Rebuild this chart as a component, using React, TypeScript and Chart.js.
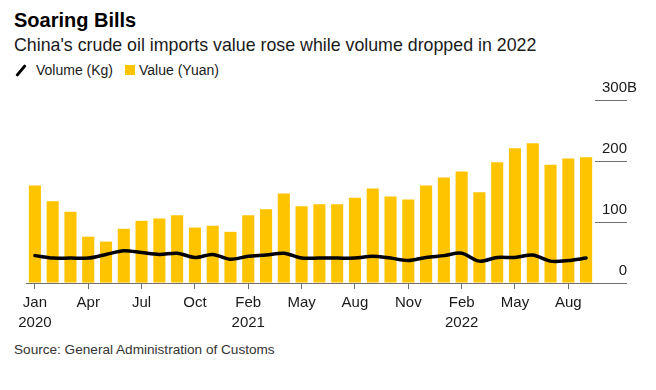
import React, { useEffect, useRef } from "react";
import { Chart, registerables } from "chart.js";

Chart.register(...registerables);

const categories = [
  "Jan 2020", "Feb 2020", "Mar 2020", "Apr 2020", "May 2020", "Jun 2020",
  "Jul 2020", "Aug 2020", "Sep 2020", "Oct 2020", "Nov 2020", "Dec 2020",
  "Feb 2021", "Mar 2021", "Apr 2021", "May 2021", "Jun 2021", "Jul 2021",
  "Aug 2021", "Sep 2021", "Oct 2021", "Nov 2021", "Dec 2021",
  "Jan 2022", "Feb 2022", "Mar 2022", "Apr 2022", "May 2022", "Jun 2022",
  "Jul 2022", "Aug 2022", "Sep 2022",
];

// Value of imports, billion yuan
const valueYuan = [
  160, 134, 117, 76, 68, 89, 102, 106, 111, 91, 94, 84,
  111, 121, 147, 126, 129, 129, 140, 155, 142, 137, 160,
  173, 183, 149, 198, 221, 229, 194, 204, 206,
];

// Volume of imports, billion kg
const volumeKg = [
  45, 41, 41, 41, 47, 53, 50, 47, 49, 42, 47, 39,
  44, 46, 49, 41, 41, 41, 41, 44, 41, 37, 42,
  45, 49, 36, 42, 42, 46, 36, 37, 41,
];

const yTicks = [0, 100, 200, 300];
const yUnit = "B";

const FONT = "'Liberation Sans', Arial, Helvetica, sans-serif";
const YELLOW = "#FFC400";
const TEXT = "#1a1a1a";
const AXIS = "#707070";

function tickLabel(i: number): string | string[] {
  if (i % 3 !== 0) return "";
  const [m, y] = categories[i].split(" ");
  let firstOfYear = true;
  for (let j = 0; j < i; j += 3) {
    if (categories[j].split(" ")[1] === y) firstOfYear = false;
  }
  return firstOfYear ? [m, y] : m;
}

// Draws the right-axis tick labels above their tick lines, right-aligned at the tick end,
// with the unit suffix hanging after the top label.
const yLabelPlugin = {
  id: "yLabelsAbove",
  afterDraw(chart: any) {
    const scale = chart.scales.y;
    const ctx = chart.ctx;
    ctx.save();
    ctx.font = `15px ${FONT}`;
    ctx.fillStyle = TEXT;
    ctx.textBaseline = "alphabetic";
    const x = scale.right;
    const top = Math.max(...scale.ticks.map((t: any) => t.value));
    scale.ticks.forEach((t: any) => {
      const y = scale.getPixelForValue(t.value) - 8;
      const txt = String(t.value);
      ctx.textAlign = "right";
      ctx.fillText(txt, x, y);
      if (t.value === top) {
        ctx.textAlign = "left";
        ctx.fillText(yUnit, x, y);
      }
    });
    ctx.restore();
  },
};

export default function App() {
  const ref = useRef<HTMLCanvasElement | null>(null);

  useEffect(() => {
    if (!ref.current) return;
    const chart = new Chart(ref.current, {
      type: "bar",
      data: {
        labels: categories,
        datasets: [
          {
            type: "line",
            label: "Volume (Kg)",
            data: volumeKg,
            borderColor: "#000000",
            borderWidth: 3.5,
            tension: 0.3,
            pointRadius: 0,
            borderCapStyle: "round",
            borderJoinStyle: "round",
            order: 0,
          } as any,
          {
            type: "bar",
            label: "Value (Yuan)",
            data: valueYuan,
            backgroundColor: YELLOW,
            barPercentage: 0.68,
            categoryPercentage: 1,
            order: 1,
          },
        ],
      },
      options: {
        animation: false,
        responsive: false,
        maintainAspectRatio: false,
        layout: { padding: { left: 26, right: 29, top: 22, bottom: 0 } },
        plugins: { legend: { display: false }, tooltip: { enabled: false } },
        scales: {
          x: {
            type: "category",
            offset: true,
            grid: {
              display: true,
              offset: false,
              drawOnChartArea: false,
              drawTicks: true,
              tickLength: 6,
              color: (ctx: any) => (ctx.index % 3 === 0 ? AXIS : "rgba(0,0,0,0)"),
            },
            border: { display: true, color: AXIS, width: 1 },
            ticks: {
              autoSkip: false,
              maxRotation: 0,
              minRotation: 0,
              padding: 4,
              color: TEXT,
              font: { family: FONT, size: 15, lineHeight: 1.33 },
              callback: (_v: any, i: number) => tickLabel(i),
            },
          },
          y: {
            position: "right",
            min: 0,
            max: 300,
            afterBuildTicks: (scale: any) => {
              scale.ticks = yTicks.map((v) => ({ value: v }));
            },
            grid: {
              display: true,
              drawOnChartArea: false,
              drawTicks: true,
              tickLength: 32,
              color: AXIS,
            },
            border: { display: false },
            ticks: { display: false },
          },
        },
      },
      plugins: [yLabelPlugin],
    });
    return () => chart.destroy();
  }, []);

  return (
    <div
      style={{
        position: "absolute",
        left: 0,
        top: 0,
        width: 656,
        height: 390,
        background: "#ffffff",
        fontFamily: FONT,
        color: TEXT,
        overflow: "hidden",
      }}
    >
      <div style={{ position: "absolute", left: 14, top: 10, fontSize: 20, lineHeight: "20px", fontWeight: 700, color: "#000" }}>
        Soaring Bills
      </div>
      <div style={{ position: "absolute", left: 14, top: 36, fontSize: 17.8, lineHeight: "18px", whiteSpace: "nowrap" }}>
        China's crude oil imports value rose while volume dropped in 2022
      </div>
      <div
        style={{
          position: "absolute",
          left: 14,
          top: 69,
          width: 14,
          height: 3,
          background: "#000",
          transform: "rotate(-50deg)",
          borderRadius: 1,
        }}
      />
      <div style={{ position: "absolute", left: 36, top: 63, fontSize: 14, lineHeight: "14px", whiteSpace: "nowrap" }}>
        Volume (Kg)
      </div>
      <div style={{ position: "absolute", left: 125, top: 65, width: 10, height: 10, background: YELLOW }} />
      <div style={{ position: "absolute", left: 139, top: 63, fontSize: 14, lineHeight: "14px", whiteSpace: "nowrap" }}>
        Value (Yuan)
      </div>
      <canvas
        ref={ref}
        width={656}
        height={259}
        style={{ position: "absolute", left: 0, top: 78, width: 656, height: 259 }}
      />
      <div style={{ position: "absolute", left: 14, top: 343, fontSize: 13.6, lineHeight: "14px", whiteSpace: "nowrap", color: "#333" }}>
        Source: General Administration of Customs
      </div>
    </div>
  );
}
